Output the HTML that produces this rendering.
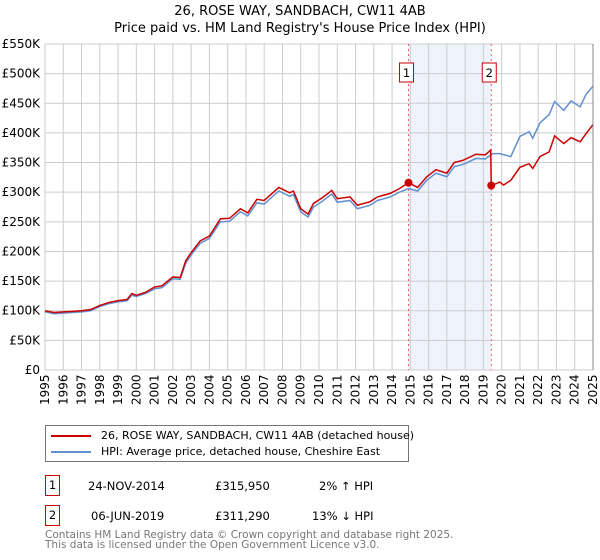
<!DOCTYPE html>
<html><head><meta charset="utf-8"><style>
body{margin:0;background:#fff;font-family:"DejaVu Sans","Liberation Sans",sans-serif;}
#wrap{position:relative;width:600px;height:560px;overflow:hidden;}
.t{position:absolute;white-space:nowrap;color:#000;}
.lg{position:absolute;left:5px;font-size:11px;white-space:nowrap;}
</style></head><body>
<div id="wrap">
<div class="t" style="left:0;width:600px;text-align:center;top:3px;font-size:13px;line-height:17px;">26, ROSE WAY, SANDBACH, CW11 4AB<br>Price paid vs. HM Land Registry's House Price Index (HPI)</div>
<svg id="svg" width="600" height="420" style="position:absolute;left:0;top:0"></svg>
<div style="position:absolute;left:45px;top:425px;width:362px;height:35px;border:1px solid #777;">
 <div class="lg" style="top:3px;"><span style="display:inline-block;width:40px;height:2px;background:#cc0000;vertical-align:middle;margin-right:10px"></span>26, ROSE WAY, SANDBACH, CW11 4AB (detached house)</div>
 <div class="lg" style="top:19px;"><span style="display:inline-block;width:40px;height:2px;background:#6090d0;vertical-align:middle;margin-right:10px"></span>HPI: Average price, detached house, Cheshire East</div>
</div>
<div style="position:absolute;left:45px;top:475px;width:13px;height:19px;border:1px solid #c00;font-size:11.5px;text-align:center;line-height:19px;">1</div>
<div class="t" style="left:88px;top:479px;font-size:11.5px;">24-NOV-2014</div>
<div class="t" style="left:215px;top:479px;font-size:11.5px;">£315,950</div>
<div class="t" style="left:319px;top:479px;font-size:11.5px;">2% ↑ HPI</div>
<div style="position:absolute;left:45px;top:505px;width:13px;height:19px;border:1px solid #c00;font-size:11.5px;text-align:center;line-height:19px;">2</div>
<div class="t" style="left:91px;top:509px;font-size:11.5px;">06-JUN-2019</div>
<div class="t" style="left:215px;top:509px;font-size:11.5px;">£311,290</div>
<div class="t" style="left:312px;top:509px;font-size:11.5px;">13% ↓ HPI</div>
<div class="t" style="left:45px;top:530px;font-size:10.5px;color:#777;line-height:10px;">Contains HM Land Registry data © Crown copyright and database right 2025.<br>This data is licensed under the Open Government Licence v3.0.</div>
</div>
<script>
const hpiYears=[1995,1995.5,1996,1996.5,1997,1997.5,1998,1998.5,1999,1999.5,1999.75,2000,2000.5,2001,2001.4,2002,2002.4,2002.7,2003,2003.5,2004,2004.6,2005.1,2005.7,2006.1,2006.6,2007,2007.8,2008.4,2008.6,2009,2009.4,2009.7,2010.2,2010.7,2011,2011.7,2012.1,2012.8,2013.2,2013.9,2014.4,2014.9,2015.4,2015.9,2016.4,2017,2017.4,2017.9,2018.6,2019.1,2019.5,2019.9,2020.5,2021,2021.5,2021.7,2022.1,2022.6,2022.9,2023.4,2023.8,2024.3,2024.6,2025];
const hpiValues=[98,95,96,97,98,100,107,112,115,117,126,124,129,137,139,154,153,180,194,214,222,250,251,267,260,282,280,302,293,296,267,258,275,285,297,283,286,272,278,286,292,300,306,302,320,332,326,343,347,357,356,365,365,360,394,402,391,417,431,453,438,454,444,464,479];
const redYears=[1995,1995.5,1996,1996.5,1997,1997.5,1998,1998.5,1999,1999.5,1999.75,2000,2000.5,2001,2001.4,2002,2002.4,2002.7,2003,2003.5,2004,2004.6,2005.1,2005.7,2006.1,2006.6,2007,2007.8,2008.4,2008.6,2009,2009.4,2009.7,2010.2,2010.7,2011,2011.7,2012.1,2012.8,2013.2,2013.9,2014.4,2014.9,2015.4,2015.9,2016.4,2017,2017.4,2017.9,2018.6,2019.1,2019.4,2019.43,2019.9,2020.1,2020.5,2021,2021.5,2021.7,2022.1,2022.6,2022.9,2023.4,2023.8,2024.3,2024.6,2025];
const redValues=[100,97,98,99,100,102,109,114,117,119,129,126,131,140,142,157,156,184,198,218,226,255,256,272,265,288,286,308,299,302,272,263,281,291,303,289,292,278,284,292,298,306,316,308,326,338,332,350,354,364,363,371,311,317,312,320,342,348,340,360,368,395,382,392,385,398,414];
const sales=[{n:"1",year:2014.9,value:315.95},{n:"2",year:2019.43,value:311.29}];
const yTicks=[0,50,100,150,200,250,300,350,400,450,500,550];
const yTickLabels=["£0","£50K","£100K","£150K","£200K","£250K","£300K","£350K","£400K","£450K","£500K","£550K"];
const x0=45,x1=593,y0=370,y1=44;
const X=y=>x0+(y-1995)/30*(x1-x0);
const Y=v=>y0-v/550*(y0-y1);
const svg=document.getElementById('svg');
const NS="http://www.w3.org/2000/svg";
function mk(tag,attrs,name){const e=document.createElementNS(NS,tag);for(const k in attrs)e.setAttribute(k,attrs[k]);


svg.appendChild(e);return e;}
mk('rect',{x:X(sales[0].year),y:y1,width:X(sales[1].year)-X(sales[0].year),height:y0-y1,fill:'#eef3fc'},'highlight-band');
for(let yr=1995;yr<=2025;yr++){
 mk('line',{x1:X(yr),x2:X(yr),y1:y1,y2:y0,stroke:'#ccc','stroke-width':1},'x-gridline');
 const t=mk('text',{x:0,y:0,transform:`translate(${X(yr)+4},${y0+35}) rotate(-90)`,'font-size':12,'font-family':'DejaVu Sans, sans-serif'},'x-tick-label');t.textContent=yr;
}
yTicks.forEach((v,i)=>{
 mk('line',{x1:x0,x2:x1,y1:Y(v),y2:Y(v),stroke:'#ccc','stroke-width':1},'y-gridline');
 const t=mk('text',{x:x0-5,y:Y(v)+4,'text-anchor':'end','font-size':12,'font-family':'DejaVu Sans, sans-serif'},'y-tick-label');t.textContent=yTickLabels[i];
});
sales.forEach(s=>{
 mk('line',{x1:X(s.year),x2:X(s.year),y1:y1,y2:y0,stroke:'#f06060','stroke-width':1,'stroke-dasharray':'2,3'},'sale-marker-line');
});
mk('polyline',{points:hpiYears.map((y,i)=>X(y)+','+Y(hpiValues[i])).join(' '),fill:'none',stroke:'#6090d0','stroke-width':1.5},'hpi-line');
mk('polyline',{points:redYears.map((y,i)=>X(y)+','+Y(redValues[i])).join(' '),fill:'none',stroke:'#cc0000','stroke-width':1.5},'price-paid-line');
sales.forEach(s=>{
 mk('circle',{cx:X(s.year),cy:Y(s.value),r:4,fill:'#cc0000'},'sale-point-'+s.n);
 mk('rect',{x:X(s.year)-9,y:63,width:14,height:19,fill:'#fff',stroke:'#c00'},'sale-label-box-'+s.n);
 const t=mk('text',{x:X(s.year)-2,y:77,'text-anchor':'middle','font-size':11.5,'font-family':'DejaVu Sans, sans-serif'},'sale-label-'+s.n);t.textContent=s.n;
});
mk('line',{x1:x1,x2:x1,y1:y1,y2:y0,stroke:'#888','stroke-width':1},'right-edge');
</script>
</body></html>
